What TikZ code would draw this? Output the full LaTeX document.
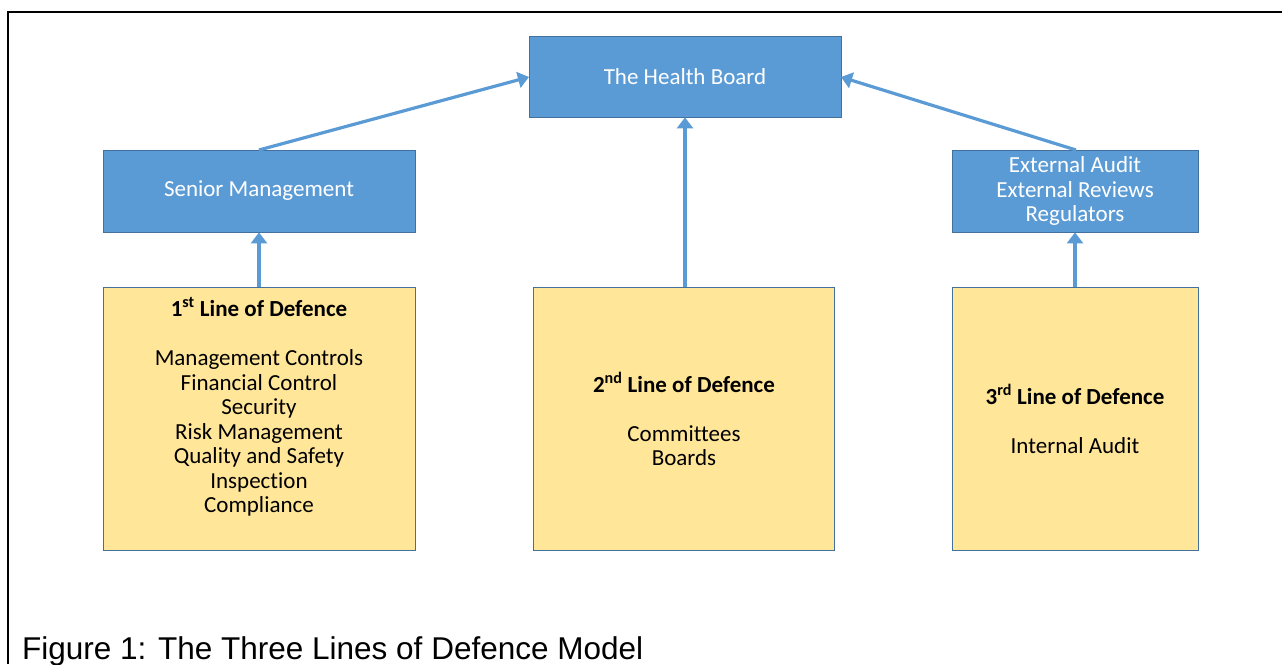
\documentclass[tikz,border=0pt]{standalone}
\usepackage{fontspec}
\setmainfont{Carlito}[Ligatures=NoCommon]
\newfontfamily\capfont{Liberation Sans}
\usetikzlibrary{arrows.meta}
\definecolor{boxblue}{HTML}{5B9BD5}
\definecolor{boxedge}{HTML}{41719C}
\definecolor{boxyellow}{HTML}{FFE699}
\begin{document}
\begin{tikzpicture}[x=1pt,y=-1pt,
  bluebox/.style={draw=boxedge, fill=boxblue, line width=0.8pt, inner sep=0pt, text=white, align=center, font=\fontsize{23}{24.5}\selectfont},
  yellowbox/.style={draw=boxedge, fill=boxyellow, line width=0.8pt, inner sep=0pt},
  boxtext/.style={align=center, text=black, font=\fontsize{23}{24.5}\selectfont},
  conn/.style={draw=boxblue, line width=3.2pt, -{Triangle[length=11pt,width=16pt]}}
]
\useasboundingbox (0,0) rectangle (1282,664);
\fill[white] (0,0) rectangle (1282,664);
\draw[line width=2.5pt] (8,664) -- (8,12) -- (1290,12);

\node[bluebox, minimum width=312pt, minimum height=81pt] (hb) at (685,76.5) {The Health Board};
\node[bluebox, minimum width=312pt, minimum height=82pt] (sm) at (259,191) {Senior Management};
\node[bluebox, minimum width=246pt, minimum height=82pt] (ex) at (1075,191) {External Audit\\External Reviews\\Regulators};

\node[yellowbox, minimum width=312pt, minimum height=263pt] (l1) at (259,418.5) {};
\node[yellowbox, minimum width=301pt, minimum height=263pt] (l2) at (683.5,418.5) {};
\node[yellowbox, minimum width=246pt, minimum height=263pt] (l3) at (1075,418.5) {};

\node[boxtext] (t1) at (259,407) {\textbf{1\textsuperscript{st} Line of Defence}\\[24.5pt]Management Controls\\Financial Control\\Security\\Risk Management\\Quality and Safety\\Inspection\\Compliance};
\node[boxtext] (t2) at (684,419) {\textbf{2\textsuperscript{nd} Line of Defence}\\[24.5pt]Committees\\Boards};
\node[boxtext] (t3) at (1075,419) {\textbf{3\textsuperscript{rd} Line of Defence}\\[24.5pt]Internal Audit};

\coordinate (smtop) at (259,150);
\coordinate (extop) at (1076,150);
\coordinate (hbl) at (529,77);
\coordinate (hbr) at (841,77);
\draw[conn] (smtop) -- (hbl);
\draw[conn] (extop) -- (hbr);
\draw[conn] (l2.north -| hb.south) -- (hb.south);
\draw[conn] (l1.north) -- (sm.south);
\draw[conn] (l3.north) -- (ex.south);

\node[anchor=base west, inner sep=0pt, font=\capfont\fontsize{31.5}{34}\selectfont] (cap) at (22,659) {Figure 1: The Three Lines of Defence Model};
\end{tikzpicture}
\end{document}
